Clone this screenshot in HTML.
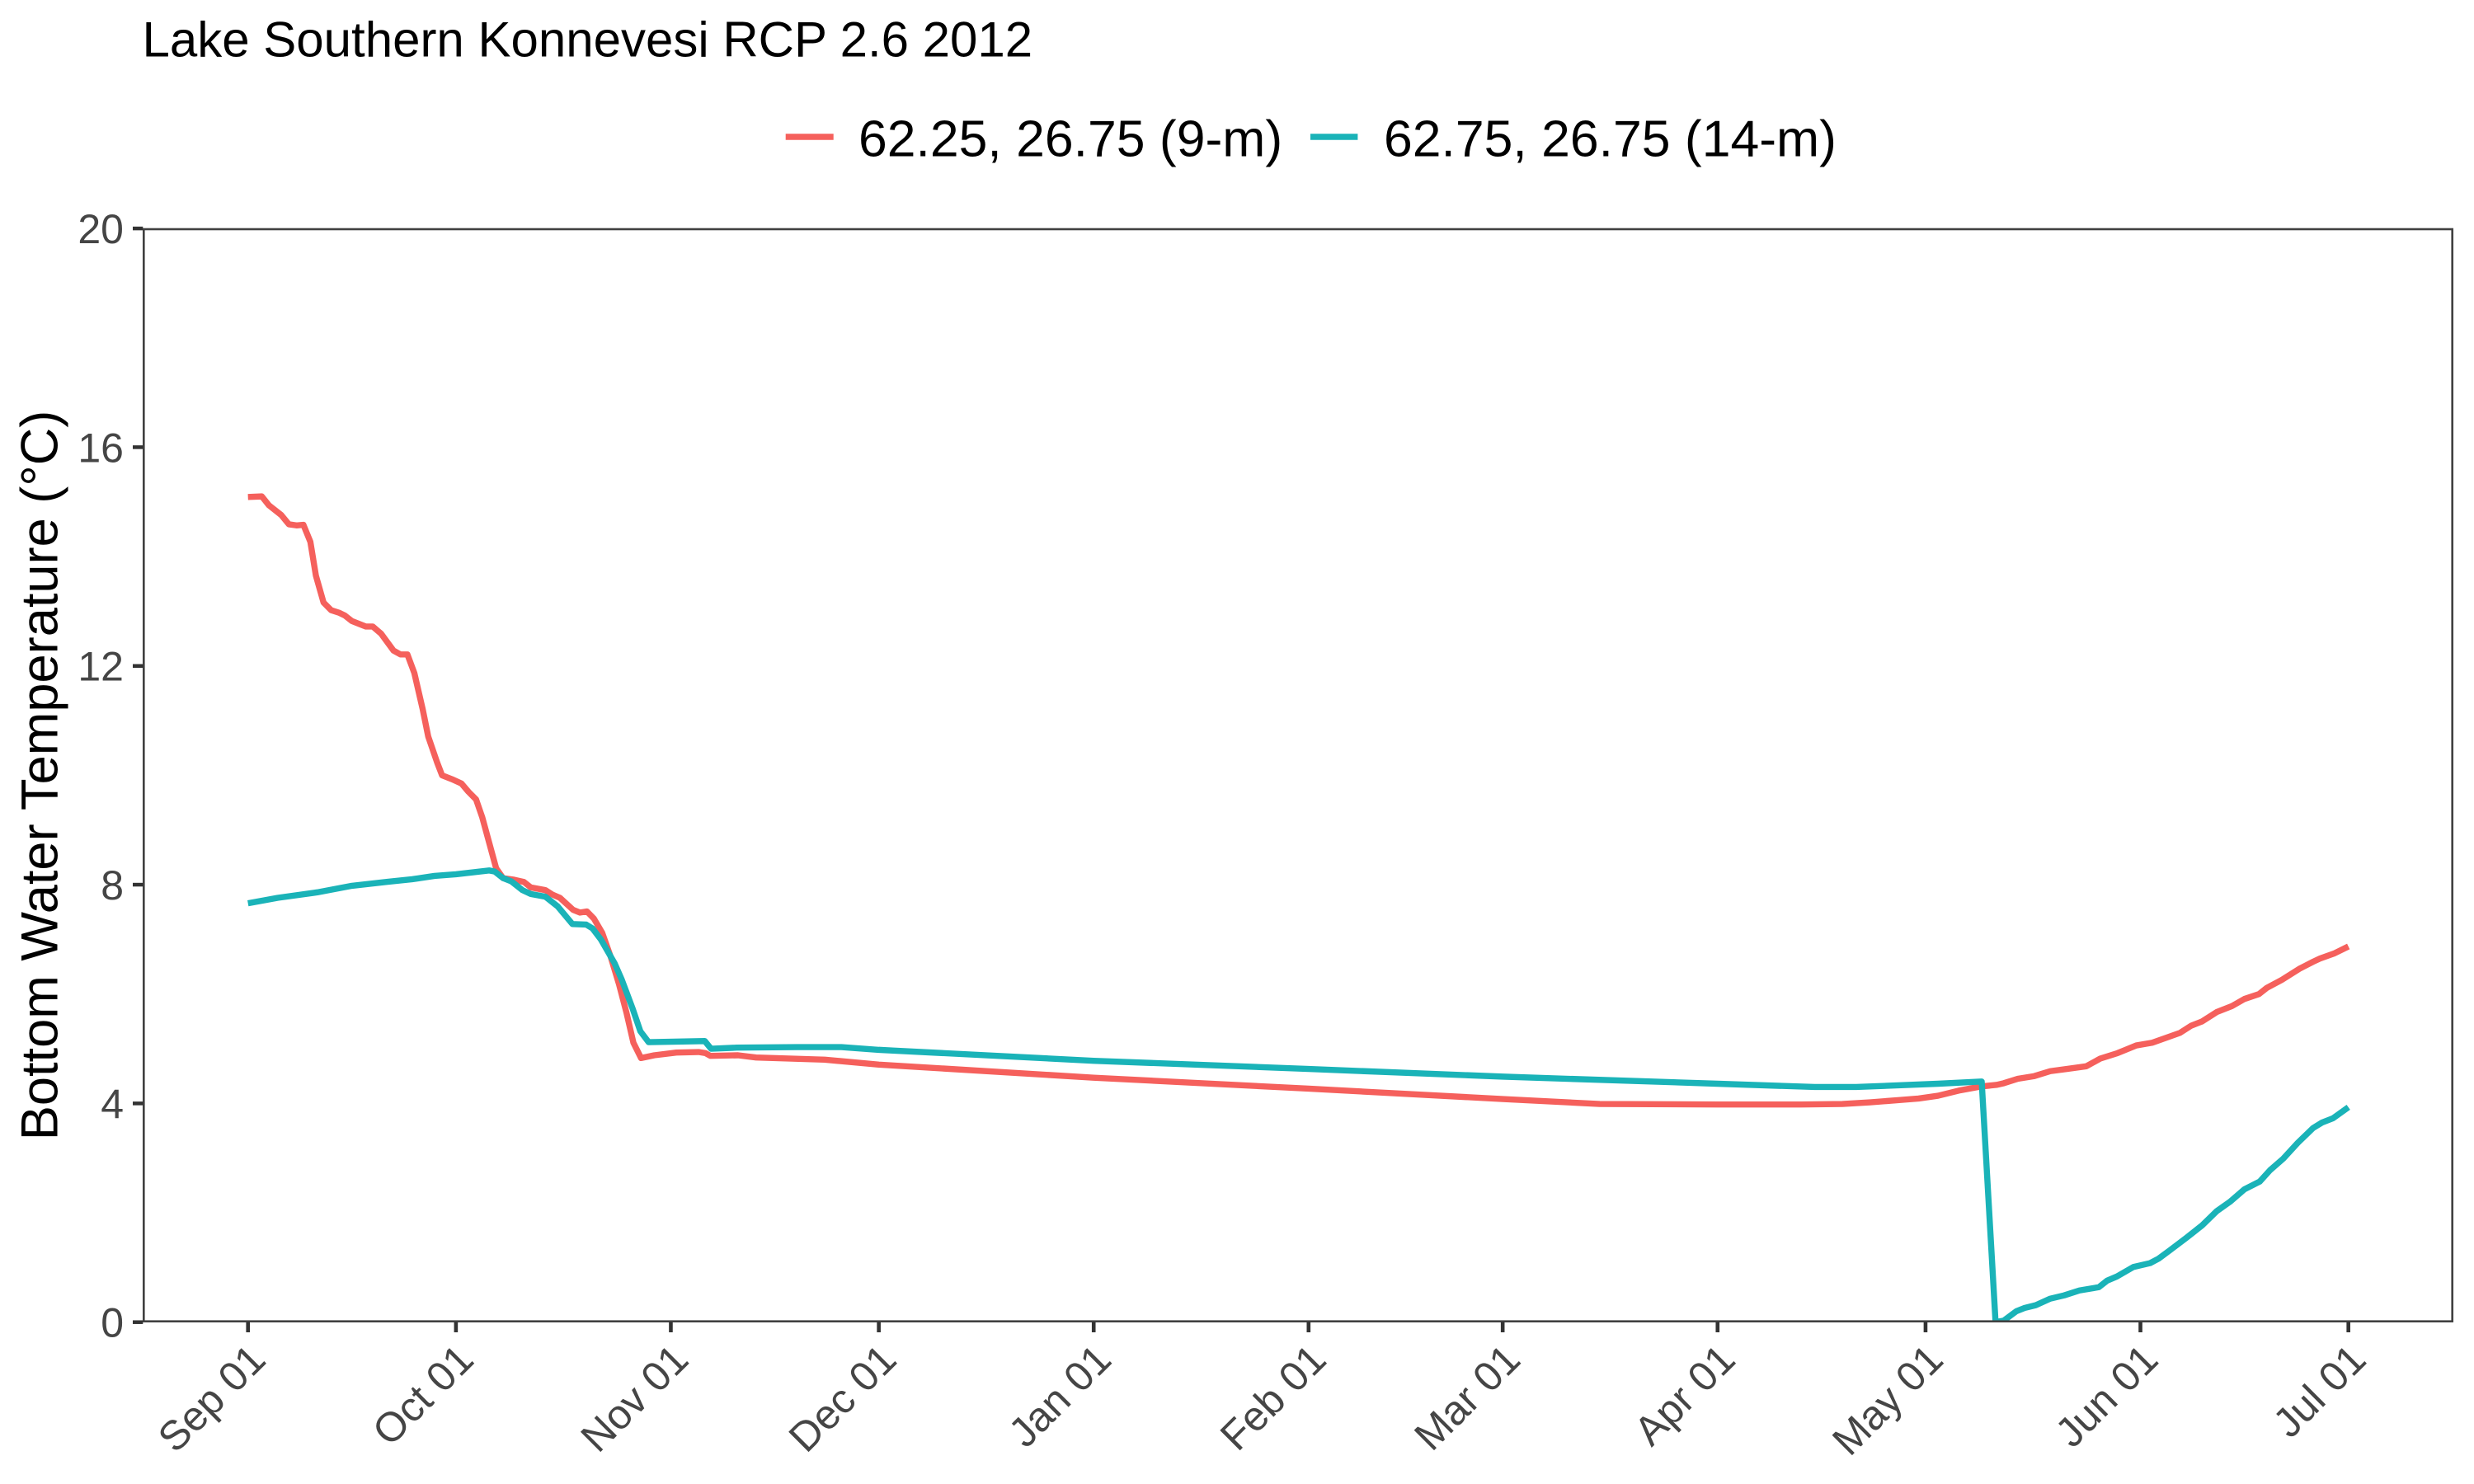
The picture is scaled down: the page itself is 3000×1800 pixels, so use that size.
<!DOCTYPE html>
<html lang="en">
<head>
<meta charset="utf-8">
<title>Lake Southern Konnevesi RCP 2.6 2012</title>
<style>
html,body{margin:0;padding:0;background:#fff;}
svg{display:block;}
text{font-family:"Liberation Sans",Arial,sans-serif;}
</style>
</head>
<body>
<svg id="chart" xmlns="http://www.w3.org/2000/svg" width="3000" height="1800" viewBox="0 0 3000 1800">
  <rect x="0" y="0" width="3000" height="1800" fill="#ffffff"/>
  <defs>
    <clipPath id="panel-clip"><rect x="174.3" y="278" width="2799.4" height="1325"/></clipPath>
  </defs>
  <text x="172.5" y="68.3" font-size="60" fill="#000000">Lake Southern Konnevesi RCP 2.6 2012</text>
  <g>
    <g>
      <line x1="952.7" y1="166" x2="1010.7" y2="166" stroke="#f5605c" stroke-width="7.4"/>
      <text x="1041" y="189.3" font-size="62.5" fill="#000000">62.25, 26.75 (9-m)</text>
    </g>
    <g>
      <line x1="1589" y1="166" x2="1646.4" y2="166" stroke="#1ab3b8" stroke-width="7.4"/>
      <text x="1678" y="189.3" font-size="62.5" fill="#000000">62.75, 26.75 (14-m)</text>
    </g>
  </g>
  <text transform="translate(69.3,940.5) rotate(-90)" text-anchor="middle" font-size="63.2" fill="#000000">Bottom Water Temperature (°C)</text>
  <g id="series" clip-path="url(#panel-clip)"></g>
  <rect x="174.3" y="278" width="2799.4" height="1324.7" fill="none" stroke="#404040" stroke-width="2.6"/>
  <g id="y-axis"></g>
  <g id="x-axis"></g>
</svg>
<script>
// Tick data
const yTickValues = [0, 4, 8, 12, 16, 20];
const xTickLabels = ['Sep 01', 'Oct 01', 'Nov 01', 'Dec 01', 'Jan 01', 'Feb 01', 'Mar 01', 'Apr 01', 'May 01', 'Jun 01', 'Jul 01'];
const xTickDays = [0, 30, 61, 91, 122, 153, 181, 212, 242, 273, 303];

// Series 62.25, 26.75 (9-m): days since Sep 01 and bottom water temperature
const daysNineMetre = [0, 2, 3, 4.8, 5.9, 7, 8, 9, 9.8, 10.9, 12, 13.2, 14, 15, 17, 18, 19.2, 21, 22, 23, 24, 25.2, 26, 27.3, 28, 29.4, 30.8, 31.8, 32.9, 33.8, 35.8, 36.8, 38.4, 39.8, 40.8, 42.9, 43.9, 45, 46.9, 47.9, 48.9, 49.9, 51.1, 52.3, 53.5, 54.6, 55.6, 56.7, 58.6, 61.8, 65, 66, 66.7, 70.7, 73.3, 83.2, 91, 122, 153, 181, 195, 212, 224, 230, 234, 238, 241, 243.8, 247, 250, 252.3, 253.3, 255.3, 257.7, 260, 262.4, 265.2, 267.2, 269.7, 272.4, 274.7, 278.7, 280.3, 281.9, 284, 286.2, 288, 290.1, 291.2, 293.4, 295.9, 297.9, 298.9, 300.9, 303];
const tempNineMetre = [15.09, 15.10, 14.94, 14.76, 14.59, 14.57, 14.58, 14.27, 13.65, 13.16, 13.02, 12.97, 12.92, 12.82, 12.72, 12.72, 12.59, 12.28, 12.21, 12.21, 11.87, 11.21, 10.71, 10.23, 10.0, 9.93, 9.85, 9.70, 9.56, 9.23, 8.30, 8.12, 8.09, 8.05, 7.95, 7.90, 7.82, 7.76, 7.54, 7.49, 7.51, 7.38, 7.12, 6.69, 6.19, 5.66, 5.11, 4.83, 4.88, 4.93, 4.94, 4.92, 4.87, 4.88, 4.84, 4.80, 4.71, 4.47, 4.27, 4.08, 3.99, 3.98, 3.98, 3.99, 4.02, 4.06, 4.09, 4.14, 4.24, 4.31, 4.34, 4.37, 4.45, 4.50, 4.59, 4.63, 4.68, 4.82, 4.92, 5.06, 5.11, 5.29, 5.42, 5.50, 5.67, 5.78, 5.91, 6.00, 6.11, 6.26, 6.46, 6.59, 6.65, 6.74, 6.87];

// Series 62.75, 26.75 (14-m): days since Sep 01 and bottom water temperature
const daysFourteenMetre = [0, 4.3, 10, 15, 20, 23.7, 26.9, 30, 34.8, 35.6, 36.8, 38, 39.6, 40.8, 42.9, 44.7, 46.8, 48.8, 49.7, 50.9, 52.9, 53.9, 55.5, 56.6, 57.8, 65.9, 66.8, 70.5, 79.2, 85.6, 91, 122, 153, 181, 212, 226, 232, 243.8, 250.1, 252.1, 253.3, 255.1, 256.3, 257.9, 260, 262, 264.2, 267, 268.2, 269.6, 272, 274.4, 275.6, 277.2, 279.6, 280.3, 281.9, 284, 285.9, 288, 290.2, 291.7, 293.6, 295.7, 297.9, 299.2, 300.8, 303];
const tempFourteenMetre = [7.66, 7.76, 7.86, 7.98, 8.05, 8.10, 8.16, 8.19, 8.26, 8.24, 8.12, 8.06, 7.90, 7.83, 7.78, 7.60, 7.28, 7.27, 7.20, 7.0, 6.56, 6.27, 5.73, 5.32, 5.12, 5.14, 5.00, 5.02, 5.03, 5.03, 4.98, 4.78, 4.63, 4.49, 4.36, 4.30, 4.30, 4.36, 4.40, 0, 0.03, 0.20, 0.26, 0.31, 0.43, 0.49, 0.58, 0.64, 0.76, 0.835, 1.01, 1.08, 1.16, 1.31, 1.54, 1.61, 1.77, 2.03, 2.20, 2.43, 2.57, 2.78, 2.99, 3.28, 3.55, 3.65, 3.73, 3.93];

const SVG_NS = 'http://www.w3.org/2000/svg';
function xScale(day) { return 300.7 + day * (2847.7 - 300.7) / 303; }
function yScale(temp) { return 1603.7 - temp * 66.33; }

function makeLinePath(days, temps) {
  let d = '';
  for (let i = 0; i < days.length; i++) {
    d += (i === 0 ? 'M' : 'L') + xScale(days[i]).toFixed(2) + ' ' + yScale(temps[i]).toFixed(2);
  }
  return d;
}

const seriesGroup = document.getElementById('series');

const lineNine = document.createElementNS(SVG_NS, 'path');


lineNine.setAttribute('d', makeLinePath(daysNineMetre, tempNineMetre));
lineNine.setAttribute('fill', 'none');
lineNine.setAttribute('stroke', '#f5605c');
lineNine.setAttribute('stroke-width', '7.4');
lineNine.setAttribute('stroke-linejoin', 'round');
seriesGroup.appendChild(lineNine);

const lineFourteen = document.createElementNS(SVG_NS, 'path');


lineFourteen.setAttribute('d', makeLinePath(daysFourteenMetre, tempFourteenMetre));
lineFourteen.setAttribute('fill', 'none');
lineFourteen.setAttribute('stroke', '#1ab3b8');
lineFourteen.setAttribute('stroke-width', '7.4');
lineFourteen.setAttribute('stroke-linejoin', 'round');
seriesGroup.appendChild(lineFourteen);

const yAxis = document.getElementById('y-axis');
yTickValues.forEach(function (value) {
  const y = yScale(value);
  const tick = document.createElementNS(SVG_NS, 'line');
  
  
  tick.setAttribute('x1', '161');
  tick.setAttribute('x2', '173.3');
  tick.setAttribute('y1', y);
  tick.setAttribute('y2', y);
  tick.setAttribute('stroke', '#333333');
  tick.setAttribute('stroke-width', '4.5');
  yAxis.appendChild(tick);
  const label = document.createElementNS(SVG_NS, 'text');
  
  
  label.setAttribute('x', '150');
  label.setAttribute('y', y + 18);
  label.setAttribute('text-anchor', 'end');
  label.setAttribute('font-size', '50');
  label.setAttribute('fill', '#454545');
  label.textContent = String(value);
  yAxis.appendChild(label);
});

const xAxis = document.getElementById('x-axis');
xTickDays.forEach(function (day, i) {
  const x = xScale(day);
  const tick = document.createElementNS(SVG_NS, 'line');
  
  
  tick.setAttribute('x1', x);
  tick.setAttribute('x2', x);
  tick.setAttribute('y1', '1603.7');
  tick.setAttribute('y2', '1616');
  tick.setAttribute('stroke', '#333333');
  tick.setAttribute('stroke-width', '4.6');
  xAxis.appendChild(tick);
  const label = document.createElementNS(SVG_NS, 'text');
  
  
  label.setAttribute('transform', 'translate(' + (x + 24) + ',1652) rotate(-45)');
  label.setAttribute('text-anchor', 'end');
  label.setAttribute('font-size', '50');
  label.setAttribute('fill', '#454545');
  label.textContent = xTickLabels[i];
  xAxis.appendChild(label);
});
</script>
</body>
</html>
